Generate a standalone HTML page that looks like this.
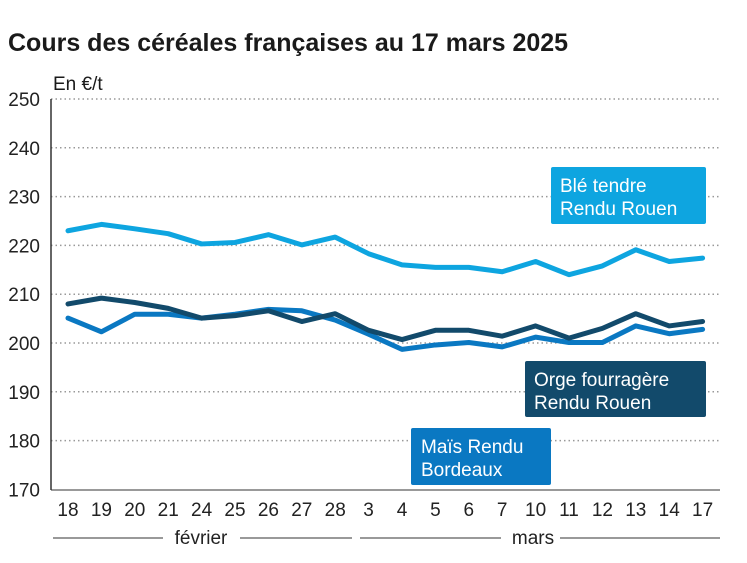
<!DOCTYPE html>
<html><head><meta charset="utf-8"><style>
body{margin:0;background:#fff;font-family:"Liberation Sans",sans-serif;}
svg text{font-family:"Liberation Sans",sans-serif;}
</style></head><body>
<svg id="chart" width="747" height="558" viewBox="0 0 747 558">
<text x="8" y="51" font-size="25" font-weight="bold" fill="#1a1a1a">Cours des céréales françaises au 17 mars 2025</text>
<text x="53" y="90" font-size="19" fill="#1a1a1a">En €/t</text>
<g id="grid"></g><g id="lines"></g><g id="xticks"></g>
<line x1="51" y1="99" x2="51" y2="490" stroke="#333" stroke-width="1.5"/>
<line x1="51" y1="490" x2="720" y2="490" stroke="#333" stroke-width="1"/>
<g>
<line x1="53" y1="538" x2="163" y2="538" stroke="#333"/><text x="201" y="544" font-size="19" text-anchor="middle" fill="#222">février</text><line x1="240" y1="538" x2="352" y2="538" stroke="#333"/></g>
<g>
<line x1="360" y1="538" x2="501" y2="538" stroke="#333"/><text x="533" y="544" font-size="19" text-anchor="middle" fill="#222">mars</text><line x1="560" y1="538" x2="720" y2="538" stroke="#333"/></g>
<g><rect x="551" y="167" width="155" height="57" rx="2" fill="#0ea5e0"/><text x="560" y="192" font-size="19" fill="#fff">Blé tendre</text><text x="560" y="215" font-size="19" fill="#fff">Rendu Rouen</text></g>
<g><rect x="525" y="361" width="181" height="56" rx="2" fill="#124a6b"/><text x="534" y="386" font-size="19" fill="#fff">Orge fourragère</text><text x="534" y="409" font-size="19" fill="#fff">Rendu Rouen</text></g>
<g><rect x="411" y="428" width="140" height="57" rx="2" fill="#0a78c2"/><text x="421" y="453" font-size="19" fill="#fff">Maïs Rendu</text><text x="421" y="476" font-size="19" fill="#fff">Bordeaux</text></g>
</svg>
<script>
const categories=["18","19","20","21","24","25","26","27","28","3","4","5","6","7","10","11","12","13","14","17"];
const yTicks=[170,180,190,200,210,220,230,240,250];
const ble=[223.0,224.3,223.4,222.4,220.3,220.6,222.2,220.1,221.7,218.3,216.0,215.5,215.5,214.6,216.7,214.0,215.8,219.1,216.7,217.4];
const orge=[208.0,209.2,208.3,207.1,205.1,205.6,206.6,204.4,206.0,202.6,200.7,202.6,202.6,201.4,203.5,201.0,203.0,206.0,203.5,204.4];
const mais=[205.1,202.3,205.9,205.9,205.1,205.9,206.9,206.6,204.7,201.8,198.7,199.6,200.1,199.2,201.2,200.1,200.1,203.5,201.9,202.8];
const NS="http://www.w3.org/2000/svg";
function x(i){return 68+i*33.4;}
function y(v){return 99+(250-v)*4.88;}
const grid=document.getElementById('grid');
yTicks.forEach(t=>{
 if(t>170){const l=document.createElementNS(NS,'line');
 
 
 l.setAttribute('x1',51);l.setAttribute('x2',720);l.setAttribute('y1',y(t));l.setAttribute('y2',y(t));
 l.setAttribute('stroke','#999');l.setAttribute('stroke-width','1.5');l.setAttribute('stroke-dasharray','1.5 3');
 grid.appendChild(l);}
 const tx=document.createElementNS(NS,'text');
 
 
 tx.setAttribute('x',40);tx.setAttribute('y',y(t)+7);tx.setAttribute('text-anchor','end');tx.setAttribute('font-size','19');tx.setAttribute('fill','#222');
 tx.textContent=t;grid.appendChild(tx);
});
const xt=document.getElementById('xticks');
categories.forEach((c,i)=>{
 const tx=document.createElementNS(NS,'text');
 
 
 tx.setAttribute('x',x(i));tx.setAttribute('y',516);tx.setAttribute('text-anchor','middle');tx.setAttribute('font-size','19');tx.setAttribute('fill','#222');
 tx.textContent=c;xt.appendChild(tx);
});
const lines=document.getElementById('lines');
function draw(data,color,name){
 const p=document.createElementNS(NS,'polyline');
 
 
 p.setAttribute('points',data.map((v,i)=>x(i)+','+y(v)).join(' '));
 p.setAttribute('fill','none');p.setAttribute('stroke',color);p.setAttribute('stroke-width','5');
 p.setAttribute('stroke-linejoin','round');p.setAttribute('stroke-linecap','round');
 lines.appendChild(p);
}
draw(mais,'#0a78c2','line-mais');
draw(orge,'#124a6b','line-orge');
draw(ble,'#0ea5e0','line-ble');
</script>
</body></html>
